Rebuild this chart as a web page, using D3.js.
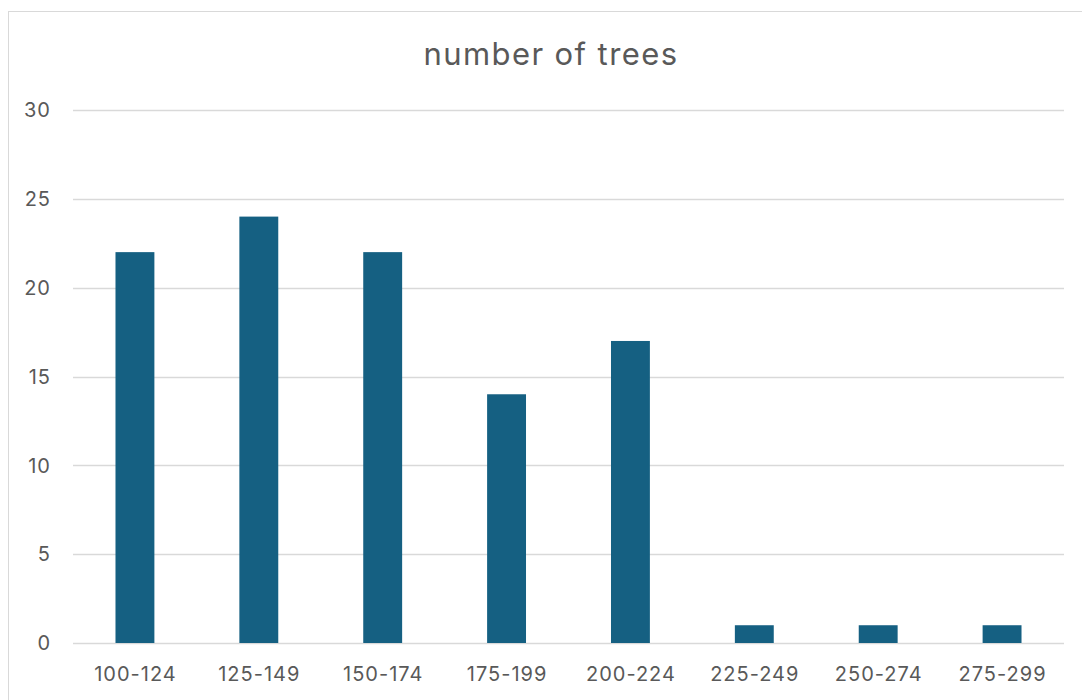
<!DOCTYPE html>
<html>
<head>
<meta charset="utf-8">
<script src="https://cdn.jsdelivr.net/npm/d3@7"></script>
<style>
  body { margin: 0; background: #fff; }
  svg { display: block; font-family: Inter, "Open Sans", sans-serif; }
</style>
</head>
<body>
<div id="chart"></div>
<script>
// data
const categories = ["100-124", "125-149", "150-174", "175-199", "200-224", "225-249", "250-274", "275-299"];
const treeCounts = [22, 24, 22, 14, 17, 1, 1, 1];
const yTicks = [0, 5, 10, 15, 20, 25, 30];

const W = 1082, H = 700;
const margin = { top: 110, right: 18, bottom: 57, left: 73 };
const width = W - margin.left - margin.right;
const height = H - margin.top - margin.bottom;

const svg = d3.select("#chart").append("svg")
    .attr("width", W)
    .attr("height", H);

// chart frame
svg.append("rect")
    .attr("x", 8.5)
    .attr("y", 11.5)
    .attr("width", W + 20)
    .attr("height", H + 20)
    .attr("fill", "none")
    .attr("stroke", "#d9d9d9");

svg.append("text")
    .attr("x", 551)
    .attr("y", 65)
    .attr("text-anchor", "middle")
    .attr("fill", "#595959")
    .style("font-size", "31px")
    .style("letter-spacing", "1.4px")
    .text("number of trees");

const g = svg.append("g")
    .attr("transform", `translate(${margin.left},${margin.top})`);

const x = d3.scaleBand()
    .domain(categories)
    .range([0, width])
    .paddingInner(0.686)
    .paddingOuter(0.343);

const y = d3.scaleLinear()
    .domain([0, 30])
    .range([height, 0]);

// gridlines
g.selectAll(".grid")
    .data(yTicks)
    .enter().append("line")
    .attr("class", "grid")
    .attr("x1", 0)
    .attr("x2", width)
    .attr("y1", d => Math.round(y(d)) + 0.5)
    .attr("y2", d => Math.round(y(d)) + 0.5)
    .attr("stroke", "#d9d9d9")
    .attr("stroke-width", 1.3);

// y labels
g.selectAll(".ylab")
    .data(yTicks)
    .enter().append("text")
    .attr("class", "ylab")
    .attr("x", -22)
    .attr("y", d => y(d))
    .attr("dy", "0.36em")
    .attr("text-anchor", "end")
    .attr("fill", "#595959")
    .style("font-size", "20px")
    .style("letter-spacing", "1px")
    .text(d => d);

// bars
g.selectAll(".bar")
    .data(categories)
    .enter().append("rect")
    .attr("class", "bar")
    .attr("x", d => x(d))
    .attr("y", (d, i) => y(treeCounts[i]))
    .attr("width", x.bandwidth())
    .attr("height", (d, i) => height - y(treeCounts[i]))
    .attr("fill", "#156082");

// x labels
g.selectAll(".xlab")
    .data(categories)
    .enter().append("text")
    .attr("class", "xlab")
    .attr("x", d => x(d) + x.bandwidth() / 2 + 0.5)
    .attr("y", height + 38)
    .attr("text-anchor", "middle")
    .attr("fill", "#595959")
    .style("font-size", "20px")
    .style("letter-spacing", "1px")
    .text(d => d);
</script>
</body>
</html>
